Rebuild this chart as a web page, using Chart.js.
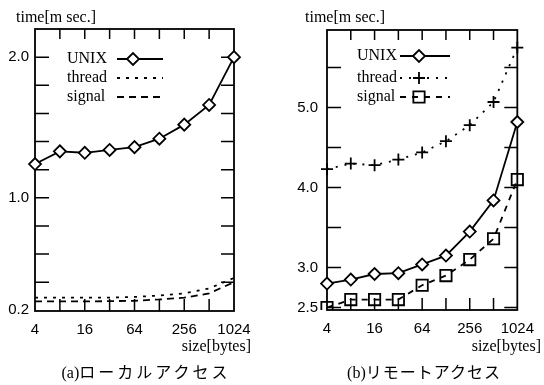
<!DOCTYPE html>
<html>
<head>
<meta charset="utf-8">
<title>local / remote access</title>
<script src="https://cdn.jsdelivr.net/npm/chart.js@4.4.1/dist/chart.umd.min.js"></script>
<style>
  html, body { margin: 0; padding: 0; background: #fff; }
  #wrap { position: relative; width: 544px; height: 385px; overflow: hidden; }
  .box { position: absolute; top: 0; width: 272px; height: 385px; }
  .cap {
    position: absolute; top: 362px; width: 272px; text-align: center;
    font: 16px "Liberation Serif", "Noto Sans CJK JP", serif; color: #000;
    line-height: 22px; white-space: nowrap;
  }
</style>
</head>
<body>
<div id="wrap">
  <div class="box" style="left:0"><canvas id="local-chart" width="272" height="385"></canvas></div>
  <div class="box" style="left:272px"><canvas id="remote-chart" width="272" height="385"></canvas></div>
  <div class="cap" style="left:10px">(a)<span style="letter-spacing:3px">ローカルアクセス</span></div>
  <div class="cap" style="left:288px">(b)<span style="letter-spacing:1px">リモートアクセス</span></div>
</div>
<script>
  "use strict";

  // x categories (message size, bytes) and which of them get a label
  var sizes = ["4", "8", "16", "32", "64", "128", "256", "512", "1024"];
  var sizeLabels = ["4", "16", "64", "256", "1024"];

  // (a) local access, time in msec
  var localUnix = [1.24, 1.33, 1.32, 1.34, 1.36, 1.42, 1.52, 1.66, 2.0];
  var localThread = [0.29, 0.29, 0.29, 0.29, 0.295, 0.305, 0.32, 0.355, 0.43];
  var localSignal = [0.263, 0.263, 0.263, 0.265, 0.268, 0.277, 0.29, 0.32, 0.4];
  var localTicks = [0.2, 0.4, 0.6, 0.8, 1.0, 1.2, 1.4, 1.6, 1.8, 2.0, 2.2];
  var localTickLabels = [0.2, 1.0, 2.0];

  // (b) remote access, time in msec
  var remoteUnix = [2.8, 2.85, 2.92, 2.93, 3.04, 3.15, 3.45, 3.84, 4.82];
  var remoteThread = [4.23, 4.3, 4.28, 4.35, 4.44, 4.58, 4.78, 5.07, 5.75];
  var remoteSignal = [2.5, 2.6, 2.6, 2.6, 2.78, 2.9, 3.1, 3.36, 4.1];
  var remoteTicks = [2.5, 3.0, 3.5, 4.0, 4.5, 5.0, 5.5];
  var remoteTickLabels = [2.5, 3.0, 4.0, 5.0];

  var serif = '"Liberation Serif", "Times New Roman", serif';
  var sans = '"Liberation Sans", Arial, sans-serif';

  // box, inner tick marks, titles and the little legend
  var framePlugin = {
    id: "frame",
    beforeDatasetsDraw: function (chart) {
      var a = chart.chartArea, ctx = chart.ctx;
      var xs = chart.scales.x, ys = chart.scales.y;
      ctx.save();
      ctx.strokeStyle = "#000";
      ctx.lineWidth = 1.8;
      ctx.strokeRect(a.left, a.top, a.right - a.left, a.bottom - a.top);
      ctx.lineWidth = 1.5;
      ctx.beginPath();
      ys.ticks.forEach(function (t) {
        var py = ys.getPixelForValue(t.value);
        if (py <= a.top + 2 || py >= a.bottom - 2) return;
        ctx.moveTo(a.left, py);
        ctx.lineTo(a.left + 14, py);
        ctx.moveTo(a.right, py);
        ctx.lineTo(a.right - 13, py);
      });
      for (var i = 1; i < xs.ticks.length - 1; i++) {
        var px = xs.getPixelForTick(i);
        ctx.moveTo(px, a.bottom);
        ctx.lineTo(px, a.bottom - 12);
        ctx.moveTo(px, a.top);
        ctx.lineTo(px, a.top + 10);
      }
      ctx.stroke();
      ctx.restore();
    },
    afterDraw: function (chart, args, opts) {
      var ctx = chart.ctx;
      ctx.save();
      ctx.fillStyle = "#000";
      ctx.font = "16px " + serif;
      ctx.textBaseline = "middle";
      ctx.textAlign = "left";
      ctx.fillText(opts.yTitle, opts.yTitleX, opts.yTitleY);
      ctx.textAlign = "right";
      ctx.fillText(opts.xTitle, opts.xTitleX, opts.xTitleY);

      // legend
      ctx.textAlign = "left";
      chart.data.datasets.forEach(function (ds, i) {
        var ly = opts.legendY[i];
        ctx.fillStyle = "#000";
        ctx.fillText(ds.label, opts.legendX, ly);
        ctx.strokeStyle = "#000";
        ctx.lineWidth = ds.borderWidth;
        ctx.setLineDash(ds.borderDash || []);
        ctx.beginPath();
        ctx.moveTo(opts.sampleX[0], ly);
        ctx.lineTo(opts.sampleX[1], ly);
        ctx.stroke();
        ctx.setLineDash([]);
        if (ds.pointRadius > 0) {
          ctx.fillStyle = ds.pointBackgroundColor;
          ctx.lineWidth = ds.pointBorderWidth;
          Chart.helpers.drawPoint(ctx, {
            pointStyle: ds.pointStyle,
            radius: ds.pointRadius,
            borderWidth: ds.pointBorderWidth,
            rotation: 0
          }, opts.markerX, ly);
        }
      });
      ctx.restore();
    }
  };

  function makeDataset(label, data, dash, style, radius, fill) {
    return {
      label: label,
      data: data,
      borderColor: "#000",
      borderWidth: 1.8,
      borderDash: dash,
      pointStyle: style,
      pointRadius: radius,
      pointHoverRadius: radius,
      pointBorderColor: "#000",
      pointBackgroundColor: fill,
      pointBorderWidth: 1.8,
      tension: 0,
      fill: false
    };
  }

  function makeChart(id, datasets, yRange, ticks, tickLabels, geo) {
    var ctx = document.getElementById(id).getContext("2d");
    return new Chart(ctx, {
      type: "line",
      data: { labels: sizes, datasets: datasets },
      options: {
        responsive: false,
        animation: false,
        events: [],
        layout: { padding: { top: geo.top, right: geo.right, left: 0, bottom: 0 } },
        plugins: {
          legend: { display: false },
          tooltip: { enabled: false },
          frame: geo.text
        },
        scales: {
          x: {
            type: "category",
            offset: false,
            afterFit: function (s) { s.height = geo.xHeight; },
            grid: { display: false, drawTicks: false },
            border: { display: false },
            ticks: {
              autoSkip: false,
              maxRotation: 0,
              padding: 10,
              color: "#000",
              font: { family: sans, size: 15 },
              callback: function (v) {
                var l = this.getLabelForValue(v);
                return sizeLabels.indexOf(l) >= 0 ? l : "";
              }
            }
          },
          y: {
            type: "linear",
            min: yRange[0],
            max: yRange[1],
            afterBuildTicks: function (s) {
              s.ticks = ticks.map(function (v) { return { value: v }; });
            },
            afterFit: function (s) { s.width = geo.yWidth; },
            grid: { display: false, drawTicks: false },
            border: { display: false },
            ticks: {
              padding: geo.yPad,
              color: "#000",
              font: { family: sans, size: 15 },
              callback: function (v) {
                return tickLabels.indexOf(v) >= 0 ? v.toFixed(1) : "";
              }
            }
          }
        }
      },
      plugins: [framePlugin]
    });
  }

  // (a) local access
  makeChart("local-chart", [
    makeDataset("UNIX", localUnix, [], "rectRot", 6, "#fff"),
    makeDataset("thread", localThread, [3, 6], false, 0, "#fff"),
    makeDataset("signal", localSignal, [7, 5], false, 0, "#fff")
  ], [0.195, 2.2], localTicks, localTickLabels, {
    top: 29, right: 38, xHeight: 74, yWidth: 35, yPad: 6,
    text: {
      yTitle: "time[m sec.]", yTitleX: 16, yTitleY: 18,
      xTitle: "size[bytes]", xTitleX: 251, xTitleY: 347,
      legendX: 67, legendY: [59, 78, 97], sampleX: [117, 163], markerX: 133
    }
  });

  // (b) remote access
  makeChart("remote-chart", [
    makeDataset("UNIX", remoteUnix, [], "rectRot", 6, "#fff"),
    makeDataset("thread", remoteThread, [2, 7], "cross", 6, "#fff"),
    makeDataset("signal", remoteSignal, [6, 6], "rect", 8, "rgba(0,0,0,0)")
  ], [2.47, 5.97], remoteTicks, remoteTickLabels, {
    top: 30, right: 17, xHeight: 75, yWidth: 55, yPad: 9,
    text: {
      yTitle: "time[m sec.]", yTitleX: 33, yTitleY: 18,
      xTitle: "size[bytes]", xTitleX: 269, xTitleY: 347,
      legendX: 85, legendY: [56, 78, 97], sampleX: [128, 178], markerX: 147
    }
  });
</script>
</body>
</html>
